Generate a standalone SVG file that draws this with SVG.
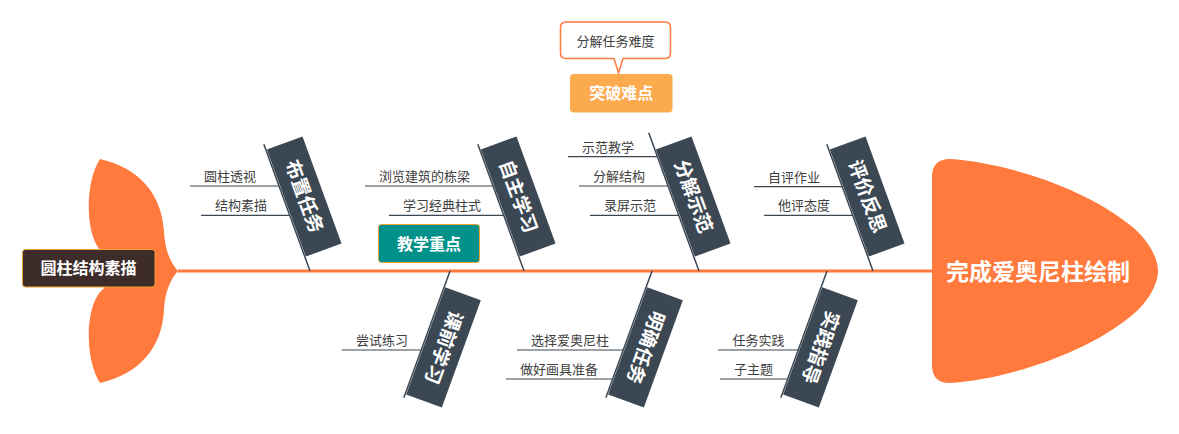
<svg xmlns="http://www.w3.org/2000/svg" width="1179" height="434" viewBox="0 0 1179 434">
<style>
text{font-family:"Liberation Sans","Noto Sans CJK SC",sans-serif}
.orange{fill:#FF7A3C}
.bone{stroke:#3B4752;stroke-width:1.5;fill:none}
.sub{stroke:#3B4752;stroke-width:1.2;fill:none}
.banner{fill:#3B4752}
.btxt{fill:#fff;font-size:19px;font-weight:bold;text-anchor:middle;dominant-baseline:central}
.stxt{fill:#404040;font-size:13px}
.ctxt{fill:#fff;font-size:16px;font-weight:bold;text-anchor:middle;dominant-baseline:central}
</style>
<rect width="1179" height="434" fill="#fff"/>
<g id="connectors">
<line x1="178" y1="271" x2="934" y2="271" stroke="#FF7A3C" stroke-width="3"/>
</g>
<g id="tail">
<path class="orange" d="M178,271 C170,262 165,250 164,232 C162,195 140,168 100,159 C86,180 84,230 100,250 L122,271 L100,292 C84,312 86,362 100,383 C140,374 162,347 164,310 C165,292 170,280 178,271 Z"/>
</g>
<g id="root">
<rect x="22.5" y="249.5" width="132.5" height="37.5" rx="3" fill="#3E2C2A" stroke="#F0A030" stroke-width="1"/>
<text class="ctxt" x="88.5" y="268.5">圆柱结构素描</text>
</g>
<g id="head">
<path class="orange" d="M950,159 C1000,162 1080,185 1130,225 C1148,239 1158,258 1158,271 C1158,284 1148,303 1130,317 C1080,357 1000,380 950,383 Q932,383 932,365 L932,177 Q932,159 950,159 Z"/>
<text x="1038" y="272" fill="#fff" font-size="23" font-weight="bold" text-anchor="middle" dominant-baseline="central">完成爱奥尼柱绘制</text>
</g>
<g id="bone-buzhi">
<g transform="translate(310,271) rotate(-20)">
<line class="bone" x1="0" y1="0" x2="0" y2="-135"/>
<rect class="banner" x="1" y="-129" width="38" height="114"/>
<text class="btxt" transform="translate(20,-72) rotate(90)">布置任务</text>
</g>
<line class="sub" x1="190" y1="186" x2="279" y2="186"/>
<text class="stxt" x="204" y="181">圆柱透视</text>
<line class="sub" x1="201" y1="215.3" x2="289.5" y2="215.3"/>
<text class="stxt" x="215" y="210.3">结构素描</text>
</g>
<g id="bone-zizhu">
<g transform="translate(524,271) rotate(-20)">
<line class="bone" x1="0" y1="0" x2="0" y2="-135"/>
<rect class="banner" x="1" y="-129" width="38" height="114"/>
<text class="btxt" transform="translate(20,-72) rotate(90)">自主学习</text>
</g>
<line class="sub" x1="365" y1="186" x2="493" y2="186"/>
<text class="stxt" x="379" y="181">浏览建筑的栋梁</text>
<line class="sub" x1="389" y1="215.3" x2="503.5" y2="215.3"/>
<text class="stxt" x="403" y="210.3">学习经典柱式</text>
</g>
<g id="bone-fenjie">
<g transform="translate(699,271) rotate(-20)">
<line class="bone" x1="0" y1="0" x2="0" y2="-147"/>
<rect class="banner" x="1" y="-129" width="38" height="114"/>
<text class="btxt" transform="translate(20,-72) rotate(90)">分解示范</text>
</g>
<line class="sub" x1="568" y1="156.7" x2="657.5" y2="156.7"/>
<text class="stxt" x="582" y="151.7">示范教学</text>
<line class="sub" x1="579" y1="186" x2="668" y2="186"/>
<text class="stxt" x="593" y="181">分解结构</text>
<line class="sub" x1="590" y1="215.3" x2="678.6" y2="215.3"/>
<text class="stxt" x="604" y="210.3">录屏示范</text>
</g>
<g id="bone-pingjia">
<g transform="translate(873,271) rotate(-20)">
<line class="bone" x1="0" y1="0" x2="0" y2="-135"/>
<rect class="banner" x="1" y="-129" width="38" height="114"/>
<text class="btxt" transform="translate(20,-72) rotate(90)">评价反思</text>
</g>
<line class="sub" x1="754" y1="186.7" x2="842" y2="186.7"/>
<text class="stxt" x="768" y="181.7">自评作业</text>
<line class="sub" x1="764" y1="215.3" x2="852.6" y2="215.3"/>
<text class="stxt" x="778" y="210.3">他评态度</text>
</g>
<g id="bone-keqian">
<g transform="translate(450,271) rotate(20)">
<line class="bone" x1="0" y1="0" x2="0" y2="135"/>
<rect class="banner" x="1" y="17" width="38" height="114"/>
<text class="btxt" transform="translate(20,74) rotate(90)">课前学习</text>
</g>
<line class="sub" x1="341.7" y1="350" x2="421.2" y2="350"/>
<text class="stxt" x="356" y="345">尝试练习</text>
</g>
<g id="bone-mingque">
<g transform="translate(652,271) rotate(20)">
<line class="bone" x1="0" y1="0" x2="0" y2="135"/>
<rect class="banner" x="1" y="17" width="38" height="114"/>
<text class="btxt" transform="translate(20,74) rotate(90)">明确任务</text>
</g>
<line class="sub" x1="517" y1="350" x2="623.2" y2="350"/>
<text class="stxt" x="531" y="345" fill="#111">选择爱奥尼柱</text>
<line class="sub" x1="506" y1="379" x2="612.7" y2="379"/>
<text class="stxt" x="520" y="374">做好画具准备</text>
</g>
<g id="bone-shijian">
<g transform="translate(827,271) rotate(20)">
<line class="bone" x1="0" y1="0" x2="0" y2="135"/>
<rect class="banner" x="1" y="17" width="38" height="114"/>
<text class="btxt" transform="translate(20,74) rotate(90)">实践指导</text>
</g>
<line class="sub" x1="718" y1="350" x2="798.2" y2="350"/>
<text class="stxt" x="732.5" y="345">任务实践</text>
<line class="sub" x1="720" y1="379" x2="787.7" y2="379"/>
<text class="stxt" x="734" y="374">子主题</text>
</g>
<g id="callout-zhongdian">
<rect x="378.5" y="224.5" width="101" height="38" rx="3" fill="#00918A" stroke="#F0A030" stroke-width="1"/>
<text class="ctxt" x="429" y="244">教学重点</text>
</g>
<g id="callout-nandian">
<rect x="570" y="74" width="102.5" height="38.5" rx="4" fill="#FCAA4E"/>
<text class="ctxt" x="621.2" y="93.5">突破难点</text>
</g>
<g id="bubble">
<path d="M566,22 H665 Q670.5,22 670.5,27.5 V53 Q670.5,58.5 665,58.5 H623 L618.5,73 L614,58.5 H566 Q560.5,58.5 560.5,53 V27.5 Q560.5,22 566,22 Z" fill="#fff" stroke="#FF7A3C" stroke-width="1.5"/>
<text x="615.5" y="46" fill="#404040" font-size="13" text-anchor="middle">分解任务难度</text>
</g>
</svg>
